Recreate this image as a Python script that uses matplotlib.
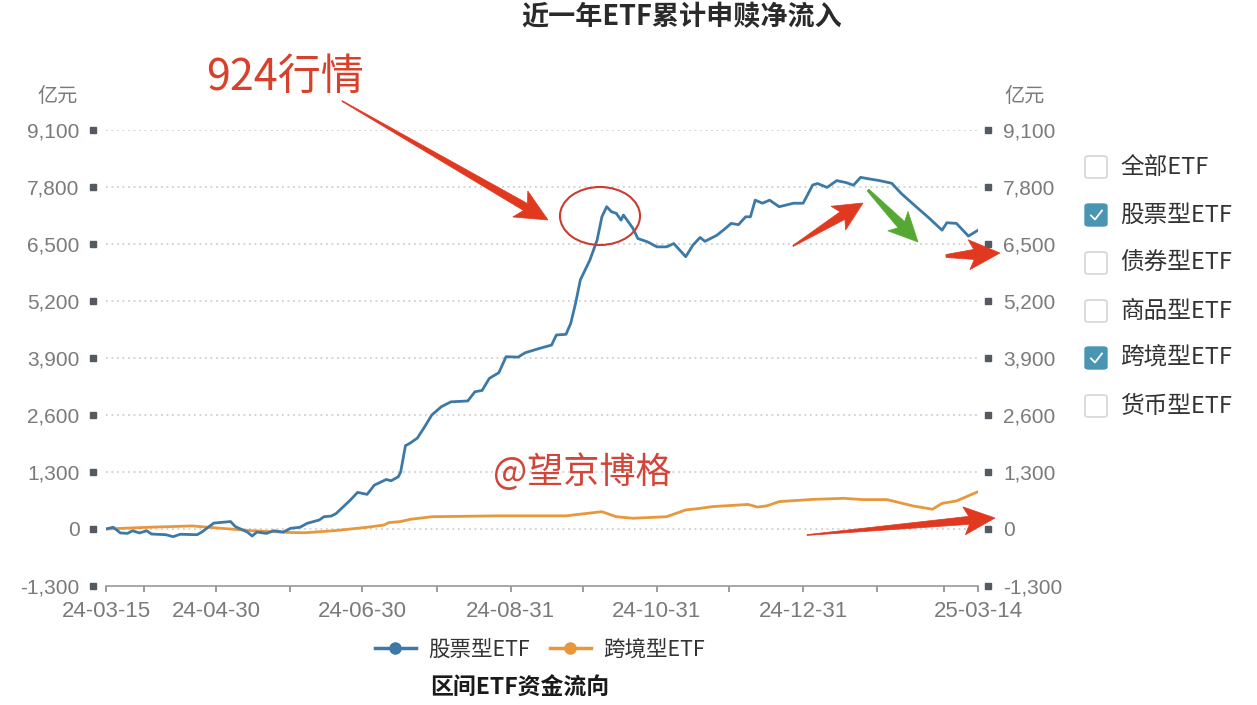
import matplotlib
matplotlib.use("Agg")
import matplotlib.pyplot as plt
import matplotlib.dates as mdates
from matplotlib.patches import Polygon, Ellipse, FancyBboxPatch
from matplotlib.lines import Line2D
import matplotlib.transforms as mtransforms
import numpy as np
import pandas as pd

plt.rcParams['font.family'] = ['Noto Sans CJK SC', 'DejaVu Sans']

# ---------------- data ----------------
stock_dates = ["2024-03-15", "2024-03-18", "2024-03-21", "2024-03-24", "2024-03-26", "2024-03-29",
               "2024-04-01", "2024-04-03", "2024-04-09", "2024-04-12", "2024-04-15", "2024-04-22",
               "2024-04-24", "2024-04-29", "2024-05-06", "2024-05-08", "2024-05-13", "2024-05-15",
               "2024-05-17", "2024-05-21", "2024-05-24", "2024-05-28", "2024-05-31", "2024-06-04",
               "2024-06-07", "2024-06-12", "2024-06-14", "2024-06-17", "2024-06-19", "2024-06-25",
               "2024-06-28", "2024-07-02", "2024-07-05", "2024-07-10", "2024-07-12", "2024-07-15",
               "2024-07-16", "2024-07-18", "2024-07-20", "2024-07-23", "2024-07-26", "2024-07-29",
               "2024-08-02", "2024-08-06", "2024-08-13", "2024-08-16", "2024-08-19", "2024-08-22",
               "2024-08-26", "2024-08-29", "2024-09-03", "2024-09-06", "2024-09-12", "2024-09-17",
               "2024-09-19", "2024-09-23", "2024-09-25", "2024-09-27", "2024-09-29", "2024-10-03",
               "2024-10-06", "2024-10-08", "2024-10-10", "2024-10-12", "2024-10-14", "2024-10-16",
               "2024-10-17", "2024-10-21", "2024-10-23", "2024-10-27", "2024-10-31", "2024-11-04",
               "2024-11-07", "2024-11-12", "2024-11-15", "2024-11-18", "2024-11-20", "2024-11-25",
               "2024-11-28", "2024-12-01", "2024-12-04", "2024-12-07", "2024-12-09", "2024-12-11",
               "2024-12-14", "2024-12-17", "2024-12-21", "2024-12-24", "2024-12-27", "2024-12-31",
               "2025-01-04", "2025-01-06", "2025-01-10", "2025-01-14", "2025-01-18", "2025-01-21",
               "2025-01-24", "2025-01-28", "2025-02-01", "2025-02-06", "2025-02-10", "2025-02-17",
               "2025-02-21", "2025-02-27", "2025-03-01", "2025-03-05", "2025-03-10", "2025-03-14"]
stock_values = [0, 40, -90, -100, -40, -90,
                -40, -115, -130, -175, -120, -130,
                -70, 135, 170, 55, -70, -160,
                -70, -100, -40, -70, 15, 40,
                130, 205, 280, 295, 350, 660,
                835, 790, 1000, 1130, 1100, 1190,
                1300, 1900, 1960, 2075, 2330, 2600,
                2790, 2900, 2920, 3130, 3160, 3435,
                3565, 3930, 3920, 4020, 4120, 4195,
                4425, 4440, 4690, 5145, 5680, 6135,
                6590, 7120, 7350, 7235, 7200, 7045,
                7160, 6855, 6625, 6550, 6435, 6435,
                6510, 6210, 6475, 6650, 6560, 6700,
                6830, 6970, 6940, 7120, 7120, 7500,
                7430, 7500, 7350, 7390, 7430, 7430,
                7845, 7880, 7790, 7945, 7900, 7840,
                8020, 7980, 7945, 7885, 7650, 7310,
                7120, 6815, 6985, 6970, 6680, 6815]

cross_dates = ["2024-03-15", "2024-04-02", "2024-04-20", "2024-04-29", "2024-05-15", "2024-05-31",
               "2024-06-06", "2024-06-18", "2024-07-02", "2024-07-09", "2024-07-11", "2024-07-16",
               "2024-07-20", "2024-07-29", "2024-08-26", "2024-09-23", "2024-10-08", "2024-10-14",
               "2024-10-21", "2024-11-04", "2024-11-12", "2024-11-18", "2024-11-23", "2024-12-08",
               "2024-12-12", "2024-12-16", "2024-12-21", "2025-01-04", "2025-01-17", "2025-01-25",
               "2025-02-04", "2025-02-15", "2025-02-23", "2025-02-27", "2025-03-05", "2025-03-14"]
cross_values = [0, 40, 70, 30, -40, -80,
                -85, -40, 40, 90, 145, 170,
                220, 280, 300, 300, 395, 280,
                245, 280, 435, 470, 510, 560,
                500, 530, 625, 675, 700, 670,
                670, 525, 450, 585, 640, 850]

y_ticks = [-1300, 0, 1300, 2600, 3900, 5200, 6500, 7800, 9100]
x_tick_dates = ["2024-03-15", "2024-03-31", "2024-04-30", "2024-05-31", "2024-06-30", "2024-07-31",
                "2024-08-31", "2024-09-30", "2024-10-31", "2024-11-30", "2024-12-31", "2025-01-31",
                "2025-02-28", "2025-03-14"]
x_label_dates = ["2024-03-15", "2024-04-30", "2024-06-30", "2024-08-31", "2024-10-31",
                 "2024-12-31", "2025-03-14"]
series_names = ["股票型ETF", "跨境型ETF"]
checkbox_items = ["全部ETF", "股票型ETF", "债券型ETF", "商品型ETF", "跨境型ETF", "货币型ETF"]
checkbox_checked = [False, True, False, False, True, False]

title = "近一年ETF累计申赎净流入"
subtitle = "区间ETF资金流向"
unit = "亿元"

BLUE = "#3d79a6"
ORANGE = "#e8973a"
RED = "#d9402c"

# ---------------- figure ----------------
W, H = 1257, 705
fig = plt.figure(figsize=(W / 100, H / 100), dpi=100)
fig.patch.set_facecolor("white")

def fx(px):
    return px / W

def fy(py):
    return 1 - py / H

ax_l, ax_r, ax_t, ax_b = 106, 978, 130, 586
ax = fig.add_axes([fx(ax_l), fy(ax_b), (ax_r - ax_l) / W, (ax_b - ax_t) / H])

sd = pd.to_datetime(stock_dates)
cd = pd.to_datetime(cross_dates)
ax.plot(cd, cross_values, color=ORANGE, lw=2.0, zorder=3, solid_joinstyle="round")
ax.plot(sd, stock_values, color=BLUE, lw=2.0, zorder=4, solid_joinstyle="round")

ax.set_xlim(pd.Timestamp("2024-03-15"), pd.Timestamp("2025-03-14"))
ax.set_ylim(-1300, 9100)

TICKFONT = ["Liberation Sans", "DejaVu Sans"]
# grid
ax.set_yticks(y_ticks)
ax.set_yticklabels([f"{v:,}" for v in y_ticks], family=TICKFONT, fontsize=15, color="#7a7a7a")
for v in y_ticks[1:]:
    ax.axhline(v, color="#c8c8c8", lw=1.1, ls=(0, (1.2, 2.4)), zorder=1)
ax.tick_params(axis="y", length=0, pad=19)

# x ticks
xt = pd.to_datetime(x_tick_dates)
ax.set_xticks(xt)
lab_set = set(x_label_dates)
ax.set_xticklabels([d[2:] if d in lab_set else "" for d in x_tick_dates],
                   family=TICKFONT, fontsize=16, color="#7a7a7a")
ax.tick_params(axis="x", length=4.5, width=1.2, color="#8a8a8a", pad=6)

for s in ["top", "left", "right"]:
    ax.spines[s].set_visible(False)
ax.spines["bottom"].set_color("#9a9a9a")
ax.spines["bottom"].set_linewidth(1.2)

# right axis
axr = ax.twinx()
axr.set_ylim(ax.get_ylim())
axr.set_yticks(y_ticks)
axr.set_yticklabels([f"{v:,}" for v in y_ticks], family=TICKFONT, fontsize=15, color="#7a7a7a")
axr.tick_params(axis="y", length=0, pad=18)
for s in ["top", "left", "right", "bottom"]:
    axr.spines[s].set_visible(False)

# square tick markers
trans = mtransforms.blended_transform_factory(ax.transAxes, ax.transData)
left_sq = (93 - ax_l) / (ax_r - ax_l)
right_sq = (988 - ax_l) / (ax_r - ax_l)
ax.plot([left_sq] * len(y_ticks), y_ticks, "s", ms=4.2, color="#555a60", transform=trans, clip_on=False)
ax.plot([right_sq] * len(y_ticks), y_ticks, "s", ms=4.2, color="#555a60", transform=trans, clip_on=False)

# unit labels
fig.text(fx(58), fy(97), unit, ha="center", va="center", fontsize=14.5, color="#7a7a7a")
fig.text(fx(1025), fy(97), unit, ha="center", va="center", fontsize=14.5, color="#7a7a7a")

# title / subtitle
fig.text(fx(682), fy(17), title, ha="center", va="center", fontsize=19.5, fontweight="bold", color="#2a2a2a")
fig.text(fx(520), fy(688), subtitle, ha="center", va="center", fontsize=16.5, fontweight="bold", color="#1a1a1a")

# legend
handles = [Line2D([0], [0], color=BLUE, lw=2.5, marker="o", ms=8, markerfacecolor=BLUE, markeredgecolor=BLUE),
           Line2D([0], [0], color=ORANGE, lw=2.5, marker="o", ms=8, markerfacecolor=ORANGE, markeredgecolor=ORANGE)]
fig.legend(handles, series_names, loc="center", bbox_to_anchor=(fx(540), fy(650)), ncol=2, frameon=False,
           fontsize=15.5, handlelength=1.9, handletextpad=0.6, columnspacing=0.9, labelcolor="#333333")

# checkbox panel
box_x, box_s = 1085, 22
row_y = [167, 215, 263, 311, 358, 406]
CHECK = "#4a95b3"
for label, checked, yc in zip(checkbox_items, checkbox_checked, row_y):
    if checked:
        patch = FancyBboxPatch((fx(box_x), fy(yc + box_s / 2)), box_s / W, box_s / H,
                               boxstyle="round,pad=0,rounding_size=0.003", transform=fig.transFigure,
                               facecolor=CHECK, edgecolor=CHECK, lw=1)
        fig.add_artist(patch)
        fig.add_artist(Line2D([fx(box_x + 6), fx(box_x + 10), fx(box_x + 17)],
                              [fy(yc + 0.5), fy(yc + 4.5), fy(yc - 4.5)],
                              transform=fig.transFigure, color="white", lw=1.3))
    else:
        patch = FancyBboxPatch((fx(box_x), fy(yc + box_s / 2)), box_s / W, box_s / H,
                               boxstyle="round,pad=0,rounding_size=0.003", transform=fig.transFigure,
                               facecolor="white", edgecolor="#d6d6d6", lw=1.2)
        fig.add_artist(patch)
    fig.text(fx(1120), fy(yc), label, ha="left", va="center", fontsize=17, color="#333333")

# ---------------- annotations ----------------
def arrow(x0, y0, x1, y1, color, tail_w=1.0, shaft_w=8.0, head_w=28.0, head_l=28.0, back=6.0):
    p0 = np.array([x0, y0], float)
    p1 = np.array([x1, y1], float)
    d = p1 - p0
    L = np.hypot(*d)
    u = d / L
    n = np.array([-u[1], u[0]])
    base = p1 - u * head_l
    barb_base = base - u * back
    pts = [p0 + n * tail_w / 2,
           base + n * shaft_w / 2,
           barb_base + n * head_w / 2,
           p1,
           barb_base - n * head_w / 2,
           base - n * shaft_w / 2,
           p0 - n * tail_w / 2]
    pts = [(fx(p[0]), fy(p[1])) for p in pts]
    fig.add_artist(Polygon(pts, closed=True, transform=fig.transFigure, facecolor=color,
                           edgecolor=color, lw=0.5, zorder=10))

ARROW_RED = "#e0391f"
GREEN = "#55a833"
arrow(342, 101, 548, 220, ARROW_RED, tail_w=0.8, shaft_w=8, head_w=30, head_l=26, back=6)
arrow(793, 246, 863, 203, ARROW_RED, tail_w=1.0, shaft_w=9, head_w=28, head_l=24, back=5)
arrow(868, 190, 918, 242, GREEN, tail_w=2.5, shaft_w=9, head_w=28, head_l=24, back=5)
arrow(946, 256, 1000, 253, ARROW_RED, tail_w=3.0, shaft_w=10, head_w=30, head_l=26, back=5)
arrow(807, 535, 995, 518, ARROW_RED, tail_w=0.8, shaft_w=8, head_w=28, head_l=26, back=5)

fig.add_artist(Ellipse((fx(600), fy(216)), 80 / W, 58 / H, transform=fig.transFigure,
                       facecolor="none", edgecolor="#cc3b30", lw=1.5, zorder=10))

fig.text(fx(285), fy(78), "924行情", ha="center", va="center", fontsize=31, color=RED, zorder=11)
fig.text(fx(582), fy(472), "@望京博格", ha="center", va="center", fontsize=26, color="#d2463a", zorder=11)

fig.savefig("out.png", dpi=100, facecolor="white")
